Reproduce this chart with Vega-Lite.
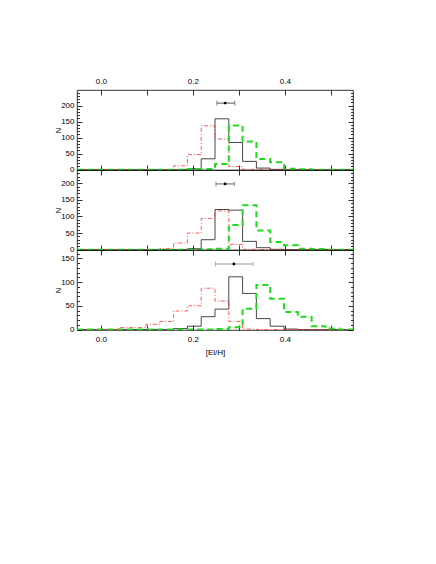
{
  "$schema": "https://vega.github.io/schema/vega-lite/v6.json",
  "padding": {"left": 54, "top": 76, "right": 5, "bottom": 5},
  "bounds": "flush",
  "config": {
    "font": "Liberation Sans",
    "view": {"stroke": "black", "strokeWidth": 0.8},
    "axis": {"domain": false, "grid": false, "tickColor": "black", "labelColor": "black", "titleColor": "black", "labelFontSize": 8, "titleFontSize": 8, "titleFontWeight": "normal", "tickWidth": 0.8}
  },
  "datasets": {
    "hist": [
      {"panel": "Mg", "s": "black", "x": -0.052, "n": 0}, {"panel": "Mg", "s": "black", "x": 0.188, "n": 3}, {"panel": "Mg", "s": "black", "x": 0.218, "n": 34}, {"panel": "Mg", "s": "black", "x": 0.248, "n": 159}, {"panel": "Mg", "s": "black", "x": 0.278, "n": 85}, {"panel": "Mg", "s": "black", "x": 0.308, "n": 26}, {"panel": "Mg", "s": "black", "x": 0.338, "n": 5}, {"panel": "Mg", "s": "black", "x": 0.368, "n": 1}, {"panel": "Mg", "s": "black", "x": 0.398, "n": 0}, {"panel": "Mg", "s": "black", "x": 0.548, "n": 0},
      {"panel": "Mg", "s": "red", "x": -0.052, "n": 0}, {"panel": "Mg", "s": "red", "x": 0.158, "n": 12}, {"panel": "Mg", "s": "red", "x": 0.188, "n": 47}, {"panel": "Mg", "s": "red", "x": 0.218, "n": 137}, {"panel": "Mg", "s": "red", "x": 0.248, "n": 96}, {"panel": "Mg", "s": "red", "x": 0.278, "n": 10}, {"panel": "Mg", "s": "red", "x": 0.308, "n": 1}, {"panel": "Mg", "s": "red", "x": 0.338, "n": 0}, {"panel": "Mg", "s": "red", "x": 0.548, "n": 0},
      {"panel": "Mg", "s": "green", "x": -0.052, "n": 0}, {"panel": "Mg", "s": "green", "x": 0.188, "n": 2}, {"panel": "Mg", "s": "green", "x": 0.248, "n": 18}, {"panel": "Mg", "s": "green", "x": 0.278, "n": 138}, {"panel": "Mg", "s": "green", "x": 0.308, "n": 88}, {"panel": "Mg", "s": "green", "x": 0.338, "n": 33}, {"panel": "Mg", "s": "green", "x": 0.368, "n": 23}, {"panel": "Mg", "s": "green", "x": 0.398, "n": 3}, {"panel": "Mg", "s": "green", "x": 0.428, "n": 1}, {"panel": "Mg", "s": "green", "x": 0.458, "n": 0}, {"panel": "Mg", "s": "green", "x": 0.548, "n": 0},
      {"panel": "Ca", "s": "black", "x": -0.052, "n": 0}, {"panel": "Ca", "s": "black", "x": 0.188, "n": 3}, {"panel": "Ca", "s": "black", "x": 0.218, "n": 30}, {"panel": "Ca", "s": "black", "x": 0.248, "n": 121}, {"panel": "Ca", "s": "black", "x": 0.278, "n": 119}, {"panel": "Ca", "s": "black", "x": 0.308, "n": 25}, {"panel": "Ca", "s": "black", "x": 0.338, "n": 6}, {"panel": "Ca", "s": "black", "x": 0.368, "n": 1}, {"panel": "Ca", "s": "black", "x": 0.398, "n": 0}, {"panel": "Ca", "s": "black", "x": 0.548, "n": 0},
      {"panel": "Ca", "s": "red", "x": -0.052, "n": 0}, {"panel": "Ca", "s": "red", "x": 0.128, "n": 3}, {"panel": "Ca", "s": "red", "x": 0.158, "n": 20}, {"panel": "Ca", "s": "red", "x": 0.188, "n": 50}, {"panel": "Ca", "s": "red", "x": 0.218, "n": 94}, {"panel": "Ca", "s": "red", "x": 0.248, "n": 117}, {"panel": "Ca", "s": "red", "x": 0.278, "n": 16}, {"panel": "Ca", "s": "red", "x": 0.308, "n": 1}, {"panel": "Ca", "s": "red", "x": 0.338, "n": 0}, {"panel": "Ca", "s": "red", "x": 0.548, "n": 0},
      {"panel": "Ca", "s": "green", "x": -0.052, "n": 0}, {"panel": "Ca", "s": "green", "x": 0.218, "n": 1}, {"panel": "Ca", "s": "green", "x": 0.248, "n": 3}, {"panel": "Ca", "s": "green", "x": 0.278, "n": 74}, {"panel": "Ca", "s": "green", "x": 0.308, "n": 134}, {"panel": "Ca", "s": "green", "x": 0.338, "n": 58}, {"panel": "Ca", "s": "green", "x": 0.368, "n": 23}, {"panel": "Ca", "s": "green", "x": 0.398, "n": 13}, {"panel": "Ca", "s": "green", "x": 0.428, "n": 3}, {"panel": "Ca", "s": "green", "x": 0.458, "n": 2}, {"panel": "Ca", "s": "green", "x": 0.488, "n": 0}, {"panel": "Ca", "s": "green", "x": 0.548, "n": 0},
      {"panel": "Cr", "s": "black", "x": -0.052, "n": 0}, {"panel": "Cr", "s": "black", "x": 0.158, "n": 2}, {"panel": "Cr", "s": "black", "x": 0.188, "n": 7}, {"panel": "Cr", "s": "black", "x": 0.218, "n": 27}, {"panel": "Cr", "s": "black", "x": 0.248, "n": 43}, {"panel": "Cr", "s": "black", "x": 0.278, "n": 111}, {"panel": "Cr", "s": "black", "x": 0.308, "n": 76}, {"panel": "Cr", "s": "black", "x": 0.338, "n": 23}, {"panel": "Cr", "s": "black", "x": 0.368, "n": 7}, {"panel": "Cr", "s": "black", "x": 0.398, "n": 1}, {"panel": "Cr", "s": "black", "x": 0.428, "n": 0}, {"panel": "Cr", "s": "black", "x": 0.548, "n": 0},
      {"panel": "Cr", "s": "red", "x": -0.052, "n": 0}, {"panel": "Cr", "s": "red", "x": 0.038, "n": 4}, {"panel": "Cr", "s": "red", "x": 0.098, "n": 11}, {"panel": "Cr", "s": "red", "x": 0.128, "n": 17}, {"panel": "Cr", "s": "red", "x": 0.158, "n": 39}, {"panel": "Cr", "s": "red", "x": 0.188, "n": 50}, {"panel": "Cr", "s": "red", "x": 0.218, "n": 87}, {"panel": "Cr", "s": "red", "x": 0.248, "n": 60}, {"panel": "Cr", "s": "red", "x": 0.278, "n": 17}, {"panel": "Cr", "s": "red", "x": 0.308, "n": 1}, {"panel": "Cr", "s": "red", "x": 0.338, "n": 0}, {"panel": "Cr", "s": "red", "x": 0.548, "n": 0},
      {"panel": "Cr", "s": "green", "x": -0.052, "n": 0}, {"panel": "Cr", "s": "green", "x": 0.248, "n": 1}, {"panel": "Cr", "s": "green", "x": 0.278, "n": 5}, {"panel": "Cr", "s": "green", "x": 0.308, "n": 44}, {"panel": "Cr", "s": "green", "x": 0.338, "n": 94}, {"panel": "Cr", "s": "green", "x": 0.368, "n": 65}, {"panel": "Cr", "s": "green", "x": 0.398, "n": 37}, {"panel": "Cr", "s": "green", "x": 0.428, "n": 27}, {"panel": "Cr", "s": "green", "x": 0.458, "n": 7}, {"panel": "Cr", "s": "green", "x": 0.488, "n": 2}, {"panel": "Cr", "s": "green", "x": 0.518, "n": 0}, {"panel": "Cr", "s": "green", "x": 0.548, "n": 0}
    ],
    "err": [
      {"panel": "Mg", "c": 0.27, "lo": 0.252, "hi": 0.291, "n": 208},
      {"panel": "Ca", "c": 0.27, "lo": 0.25, "hi": 0.29, "n": 198},
      {"panel": "Cr", "c": 0.289, "lo": 0.249, "hi": 0.331, "n": 138}
    ]
  },
  "spacing": 0,
  "vconcat": [
    {
      "width": 276, "height": 80,
      "resolve": {"axis": {"x": "independent", "y": "independent"}},
      "layer": [
        {"data": {"name": "hist"}, "transform": [{"filter": "datum.panel === 'Mg' && datum.s === 'black'"}],
          "mark": {"type": "line", "interpolate": "step-after", "color": "#333", "strokeWidth": 0.9, "clip": true},
          "encoding": {
            "x": {"field": "x", "type": "quantitative", "scale": {"domain": [-0.052, 0.548], "nice": false, "zero": false},
              "axis": {"orient": "bottom", "values": [0, 0.1, 0.2, 0.3, 0.4, 0.5], "labels": false, "tickSize": -5, "title": null}},
            "y": {"field": "n", "type": "quantitative", "scale": {"domain": [-1, 249], "nice": false, "zero": false},
              "axis": {"orient": "left", "values": [0,10,20,30,40,50,60,70,80,90,100,110,120,130,140,150,160,170,180,190,200,210,220,230,240], "labelExpr": "datum.value % 50 === 0 ? datum.label : ''", "tickSize": {"condition": {"test": "datum.value % 50 === 0", "value": -5}, "value": -2.5}, "labelPadding": 8, "title": "N", "titlePadding": -2}}
          }},
        {"data": {"name": "hist"}, "transform": [{"filter": "datum.panel === 'Mg' && datum.s === 'red'"}],
          "mark": {"type": "line", "interpolate": "step-after", "color": "#ff3030", "strokeWidth": 0.8, "strokeDash": [4, 2, 1, 2], "clip": true},
          "encoding": {
            "x": {"field": "x", "type": "quantitative", "axis": {"orient": "top", "values": [0, 0.1, 0.2, 0.3, 0.4, 0.5], "labelExpr": "round(datum.value*10) % 2 === 0 ? format(datum.value, '.1f') : ''", "tickSize": -5, "labelPadding": 10, "title": null}},
            "y": {"field": "n", "type": "quantitative", "axis": {"orient": "right", "values": [0,10,20,30,40,50,60,70,80,90,100,110,120,130,140,150,160,170,180,190,200,210,220,230,240], "labels": false, "tickSize": {"condition": {"test": "datum.value % 50 === 0", "value": -5}, "value": -2.5}, "title": null}}
          }},
        {"data": {"name": "hist"}, "transform": [{"filter": "datum.panel === 'Mg' && datum.s === 'green'"}],
          "mark": {"type": "line", "interpolate": "step-after", "color": "#1fdc1f", "strokeWidth": 2, "strokeDash": [6, 4], "clip": true},
          "encoding": {"x": {"field": "x", "type": "quantitative", "axis": null}, "y": {"field": "n", "type": "quantitative", "axis": null}}},
        {"mark": {"type": "rule", "color": "black", "strokeWidth": 1.5, "strokeDash": [6, 4]},
          "encoding": {"x": {"datum": 0.3, "type": "quantitative", "axis": null}}},
        {"data": {"name": "err"}, "transform": [{"filter": "datum.panel === 'Mg'"}],
          "mark": {"type": "errorbar", "ticks": true, "color": "#555"},
          "encoding": {"x": {"field": "lo", "type": "quantitative", "axis": null}, "x2": {"field": "hi"}, "y": {"field": "n", "type": "quantitative", "axis": null}}},
        {"data": {"name": "err"}, "transform": [{"filter": "datum.panel === 'Mg'"}],
          "mark": {"type": "point", "filled": true, "size": 8, "color": "black", "opacity": 1},
          "encoding": {"x": {"field": "c", "type": "quantitative", "axis": null}, "y": {"field": "n", "type": "quantitative", "axis": null}}},
        {"mark": {"type": "text", "align": "left", "baseline": "middle", "fontSize": 8.5, "color": "black"},
          "encoding": {"x": {"datum": 0.017, "type": "quantitative", "axis": null}, "y": {"datum": 180, "type": "quantitative", "axis": null}, "text": {"value": "Mg"}}}
      ]
    },
    {
      "width": 276, "height": 80,
      "resolve": {"axis": {"x": "independent", "y": "independent"}},
      "layer": [
        {"data": {"name": "hist"}, "transform": [{"filter": "datum.panel === 'Ca' && datum.s === 'black'"}],
          "mark": {"type": "line", "interpolate": "step-after", "color": "#333", "strokeWidth": 0.9, "clip": true},
          "encoding": {
            "x": {"field": "x", "type": "quantitative", "scale": {"domain": [-0.052, 0.548], "nice": false, "zero": false},
              "axis": {"orient": "bottom", "values": [0, 0.1, 0.2, 0.3, 0.4, 0.5], "labels": false, "tickSize": -5, "title": null}},
            "y": {"field": "n", "type": "quantitative", "scale": {"domain": [-1, 240], "nice": false, "zero": false},
              "axis": {"orient": "left", "values": [0,10,20,30,40,50,60,70,80,90,100,110,120,130,140,150,160,170,180,190,200,210,220,230,240], "labelExpr": "datum.value % 50 === 0 ? datum.label : ''", "tickSize": {"condition": {"test": "datum.value % 50 === 0", "value": -5}, "value": -2.5}, "labelPadding": 8, "title": "N", "titlePadding": -2}}
          }},
        {"data": {"name": "hist"}, "transform": [{"filter": "datum.panel === 'Ca' && datum.s === 'red'"}],
          "mark": {"type": "line", "interpolate": "step-after", "color": "#ff3030", "strokeWidth": 0.8, "strokeDash": [4, 2, 1, 2], "clip": true},
          "encoding": {
            "x": {"field": "x", "type": "quantitative", "axis": {"orient": "top", "values": [0, 0.1, 0.2, 0.3, 0.4, 0.5], "labels": false, "tickSize": -5, "title": null}},
            "y": {"field": "n", "type": "quantitative", "axis": {"orient": "right", "values": [0,10,20,30,40,50,60,70,80,90,100,110,120,130,140,150,160,170,180,190,200,210,220,230,240], "labels": false, "tickSize": {"condition": {"test": "datum.value % 50 === 0", "value": -5}, "value": -2.5}, "title": null}}
          }},
        {"data": {"name": "hist"}, "transform": [{"filter": "datum.panel === 'Ca' && datum.s === 'green'"}],
          "mark": {"type": "line", "interpolate": "step-after", "color": "#1fdc1f", "strokeWidth": 2, "strokeDash": [6, 4], "clip": true},
          "encoding": {"x": {"field": "x", "type": "quantitative", "axis": null}, "y": {"field": "n", "type": "quantitative", "axis": null}}},
        {"mark": {"type": "rule", "color": "black", "strokeWidth": 1.5, "strokeDash": [6, 4]},
          "encoding": {"x": {"datum": 0.3, "type": "quantitative", "axis": null}}},
        {"data": {"name": "err"}, "transform": [{"filter": "datum.panel === 'Ca'"}],
          "mark": {"type": "errorbar", "ticks": true, "color": "#666"},
          "encoding": {"x": {"field": "lo", "type": "quantitative", "axis": null}, "x2": {"field": "hi"}, "y": {"field": "n", "type": "quantitative", "axis": null}}},
        {"data": {"name": "err"}, "transform": [{"filter": "datum.panel === 'Ca'"}],
          "mark": {"type": "point", "filled": true, "size": 8, "color": "black", "opacity": 1},
          "encoding": {"x": {"field": "c", "type": "quantitative", "axis": null}, "y": {"field": "n", "type": "quantitative", "axis": null}}},
        {"mark": {"type": "text", "align": "left", "baseline": "middle", "fontSize": 8.5, "color": "black"},
          "encoding": {"x": {"datum": 0.017, "type": "quantitative", "axis": null}, "y": {"datum": 167, "type": "quantitative", "axis": null}, "text": {"value": "Ca"}}}
      ]
    },
    {
      "width": 276, "height": 80,
      "resolve": {"axis": {"x": "independent", "y": "independent"}},
      "layer": [
        {"data": {"name": "hist"}, "transform": [{"filter": "datum.panel === 'Cr' && datum.s === 'black'"}],
          "mark": {"type": "line", "interpolate": "step-after", "color": "#333", "strokeWidth": 0.9, "clip": true},
          "encoding": {
            "x": {"field": "x", "type": "quantitative", "scale": {"domain": [-0.052, 0.548], "nice": false, "zero": false},
              "axis": {"orient": "bottom", "values": [0, 0.1, 0.2, 0.3, 0.4, 0.5], "labelExpr": "round(datum.value*10) % 2 === 0 ? format(datum.value, '.1f') : ''", "tickSize": -5, "labelPadding": 10, "title": "[El/H]", "titlePadding": 5}},
            "y": {"field": "n", "type": "quantitative", "scale": {"domain": [-1, 167.5], "nice": false, "zero": false},
              "axis": {"orient": "left", "values": [0,10,20,30,40,50,60,70,80,90,100,110,120,130,140,150,160], "labelExpr": "datum.value % 50 === 0 ? datum.label : ''", "tickSize": {"condition": {"test": "datum.value % 50 === 0", "value": -5}, "value": -2.5}, "labelPadding": 8, "title": "N", "titlePadding": -2}}
          }},
        {"data": {"name": "hist"}, "transform": [{"filter": "datum.panel === 'Cr' && datum.s === 'red'"}],
          "mark": {"type": "line", "interpolate": "step-after", "color": "#ff3030", "strokeWidth": 0.8, "strokeDash": [4, 2, 1, 2], "clip": true},
          "encoding": {
            "x": {"field": "x", "type": "quantitative", "axis": {"orient": "top", "values": [0, 0.1, 0.2, 0.3, 0.4, 0.5], "labels": false, "tickSize": -5, "title": null}},
            "y": {"field": "n", "type": "quantitative", "axis": {"orient": "right", "values": [0,10,20,30,40,50,60,70,80,90,100,110,120,130,140,150,160], "labels": false, "tickSize": {"condition": {"test": "datum.value % 50 === 0", "value": -5}, "value": -2.5}, "title": null}}
          }},
        {"data": {"name": "hist"}, "transform": [{"filter": "datum.panel === 'Cr' && datum.s === 'green'"}],
          "mark": {"type": "line", "interpolate": "step-after", "color": "#1fdc1f", "strokeWidth": 2, "strokeDash": [6, 4], "clip": true},
          "encoding": {"x": {"field": "x", "type": "quantitative", "axis": null}, "y": {"field": "n", "type": "quantitative", "axis": null}}},
        {"mark": {"type": "rule", "color": "black", "strokeWidth": 1.5, "strokeDash": [6, 4]},
          "encoding": {"x": {"datum": 0.3, "type": "quantitative", "axis": null}}},
        {"data": {"name": "err"}, "transform": [{"filter": "datum.panel === 'Cr'"}],
          "mark": {"type": "errorbar", "ticks": true, "color": "#999"},
          "encoding": {"x": {"field": "lo", "type": "quantitative", "axis": null}, "x2": {"field": "hi"}, "y": {"field": "n", "type": "quantitative", "axis": null}}},
        {"data": {"name": "err"}, "transform": [{"filter": "datum.panel === 'Cr'"}],
          "mark": {"type": "point", "filled": true, "size": 8, "color": "black", "opacity": 1},
          "encoding": {"x": {"field": "c", "type": "quantitative", "axis": null}, "y": {"field": "n", "type": "quantitative", "axis": null}}},
        {"mark": {"type": "text", "align": "left", "baseline": "middle", "fontSize": 8.5, "color": "black"},
          "encoding": {"x": {"datum": 0.017, "type": "quantitative", "axis": null}, "y": {"datum": 113, "type": "quantitative", "axis": null}, "text": {"value": "Cr"}}}
      ]
    }
  ]
}
